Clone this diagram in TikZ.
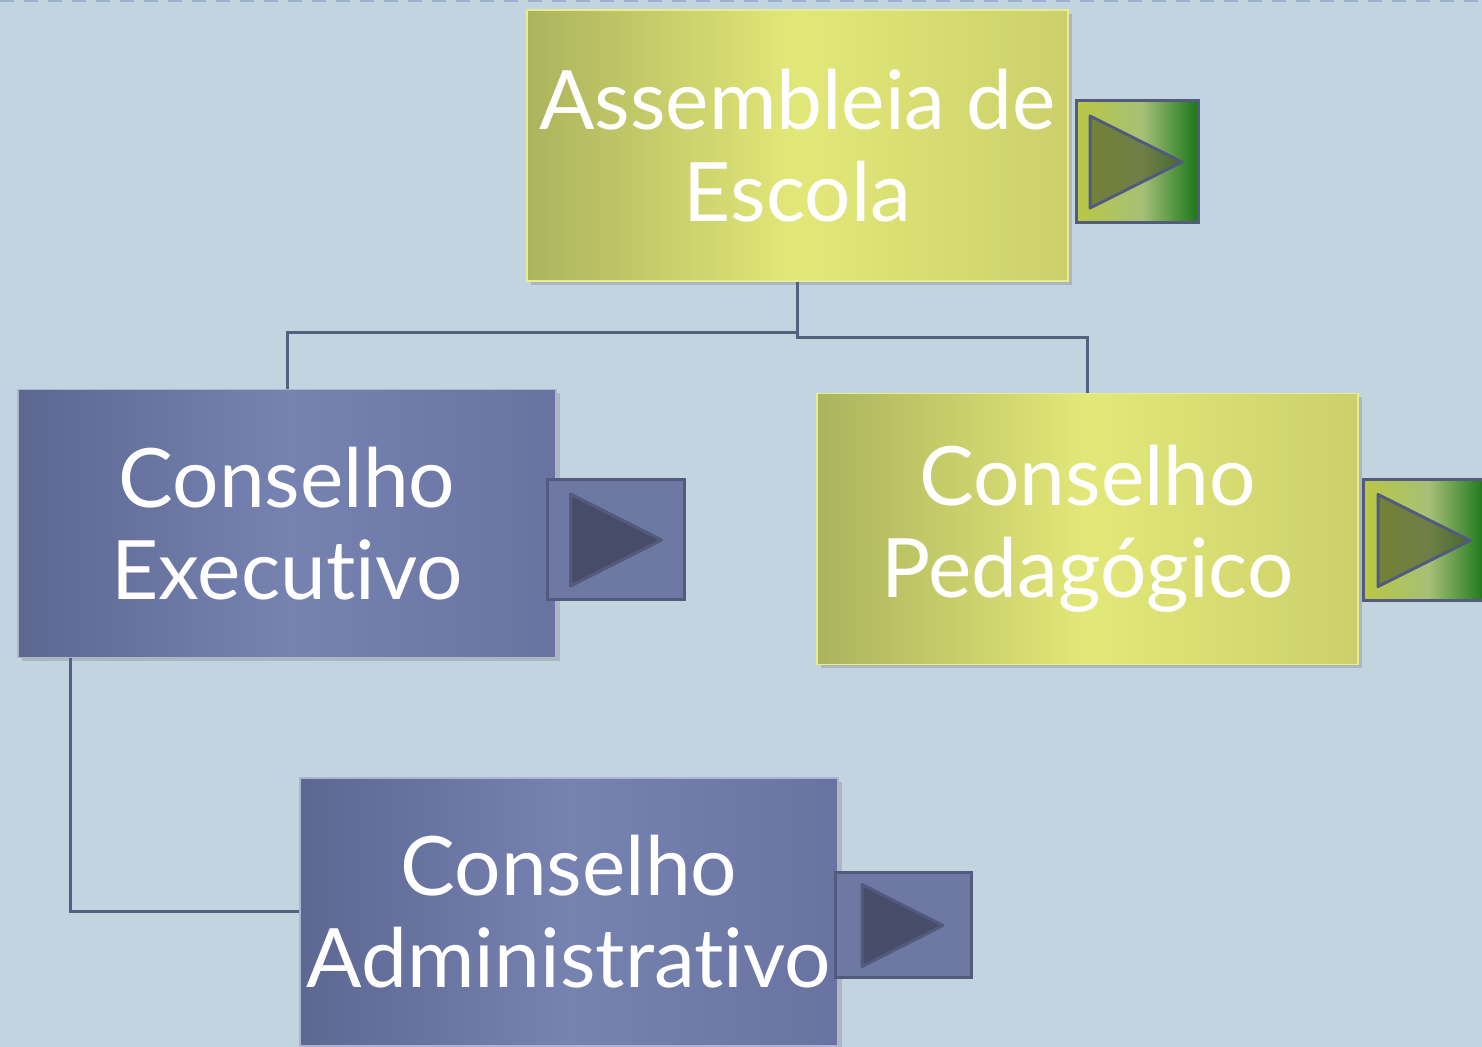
\documentclass[tikz,border=0pt]{standalone}
\usepackage{fontspec}
\setmainfont{Lato}[Ligatures={NoCommon}]
\usetikzlibrary{shadows}

\definecolor{bgblue}{HTML}{C3D4E1}
\definecolor{dashcol}{HTML}{9BB0CC}
\definecolor{linkcol}{HTML}{55607F}
\definecolor{ylwdark}{HTML}{ACB35D}
\definecolor{ylwlight}{HTML}{E2E878}
\definecolor{ylwmid}{HTML}{CBD06B}
\definecolor{bluedark}{HTML}{5C6792}
\definecolor{bluelight}{HTML}{7682B0}
\definecolor{bluemid}{HTML}{6873A2}
\definecolor{arrline}{HTML}{525A7E}
\definecolor{arrblue}{HTML}{6E79A3}
\definecolor{triblue}{HTML}{474D68}
\definecolor{triolive}{HTML}{4A5428}
\definecolor{grnA}{HTML}{BAC744}
\definecolor{grnB}{HTML}{A6C077}
\definecolor{grnC}{HTML}{1B761B}

\pgfdeclarehorizontalshading{arrgreen}{100bp}{color(0bp)=(grnA); color(25bp)=(grnA);
  color(52bp)=(grnB); color(75bp)=(grnC); color(100bp)=(grnC)}

\tikzset{
  ylwbox/.style={minimum width=270.5pt, minimum height=135.5pt, inner sep=0pt,
    shading=axis, left color=ylwdark, right color=ylwmid, middle color=ylwlight,
    draw=ylwlight!80!white, line width=0.6pt,
    drop shadow={opacity=0.35, shadow xshift=2pt, shadow yshift=-2pt},
    text=white, font=\fontsize{41}{46}\selectfont, align=center},
  bluebox/.style={minimum width=269pt, minimum height=134pt, inner sep=0pt,
    shading=axis, left color=bluedark, right color=bluemid, middle color=bluelight,
    draw=bluelight!60!white, line width=0.6pt,
    drop shadow={opacity=0.35, shadow xshift=2pt, shadow yshift=-2pt},
    text=white, font=\fontsize{41}{46}\selectfont, align=center},
  greenarr/.style={draw=arrline, line width=1.5pt, shading=arrgreen, inner sep=0pt},
  bluearr/.style={draw=arrline, line width=1.5pt, fill=arrblue, inner sep=0pt},
  tri/.style={draw=arrline, line width=1.5pt, line join=round},
  link/.style={draw=linkcol, line width=1.5pt}
}

\begin{document}
\begin{tikzpicture}[x=0.5pt,y=0.5pt]
	\clip (0,0) rectangle (1482,1047);
	\fill[bgblue] (0,0) rectangle (1482,1047);
	\draw[dashcol, dash pattern=on 7pt off 5pt, line width=1pt] (0,1046) -- (1482,1046);

	\node[ylwbox] (asm) at (797.5,901.5) {Assembleia de\\Escola};
	\node[bluebox] (exe) at (287,523.5) {Conselho\\Executivo};
	\node[ylwbox] (ped) at (1087.5,518) {Conselho\\Pedagógico};
	\node[bluebox] (adm) at (569,135) {Conselho\\Administrativo};

	\node[greenarr, minimum width=61pt, minimum height=61pt] (arrAsm) at (1137,885) {};
	\node[bluearr, minimum width=68.5pt, minimum height=60pt] (arrExe) at (615.5,507) {};
	\node[greenarr, minimum width=61pt, minimum height=60.5pt] (arrPed) at (1424,506.5) {};
	\node[bluearr, minimum width=68pt, minimum height=52.5pt] (arrAdm) at (903,121.5) {};

	\draw[tri, fill=triolive, fill opacity=0.6, shift={(arrAsm.center)}] (-47,46) -- (45,0) -- (-47,-46) -- cycle;
	\draw[tri, fill=triolive, fill opacity=0.6, shift={(arrPed.center)}] (-46,46) -- (46,0) -- (-46,-46) -- cycle;
	\draw[tri, fill=triblue, shift={(arrExe.center)}] (-45,46) -- (46,0) -- (-45,-46) -- cycle;
	\draw[tri, fill=triblue, shift={(arrAdm.center)}] (-41,41) -- (40,0) -- (-41,-41) -- cycle;

	\draw[link] (asm.south) -- ++(0,-51) -| (exe.north);
	\draw[link] (asm.south) -- ++(0,-56) -| (ped.north);
%	\draw[link] (exe.south) |- (adm.west);
	\draw[link] ([xshift=26.5pt]exe.south west) |- (adm.west);
\end{tikzpicture}
\end{document}
